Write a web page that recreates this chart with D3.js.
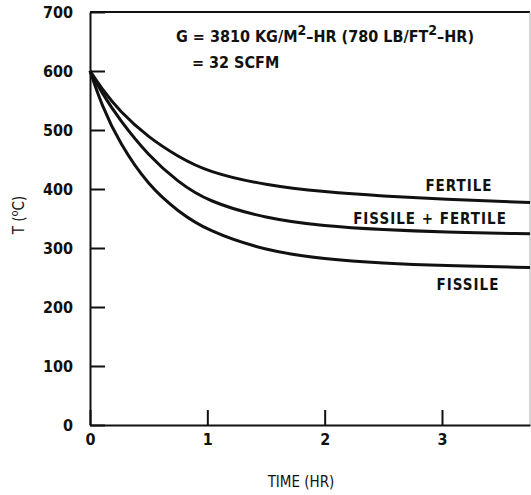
<!DOCTYPE html>
<html>

<head>
    <title>Temperature vs time</title>
    <style>
        body { margin: 0; background: #fff; }
        text { font-family: "DejaVu Sans Condensed", "Liberation Sans Narrow", sans-serif; fill: #111; }
    </style>
    <script src="https://d3js.org/d3.v7.min.js"></script>
</head>

<body>
    <svg width="531" height="495"></svg>

    <script>
        // values: time (hr) and T (deg C)
        var times = [0, 0.1, 0.25, 0.5, 0.75, 1.0, 1.5, 2.0, 2.5, 3.0, 3.75];
        var fertile = [600, 570, 532, 487, 455, 429, 406, 395, 388, 383, 377];
        var fissileFertile = [600, 563, 518, 456, 412, 379, 350, 337, 331, 327, 324];
        var fissile = [600, 542, 478, 405, 362, 329, 295, 281, 274, 270, 267];

        var xTicks = [0, 1, 2, 3];
        var yTicks = [0, 100, 200, 300, 400, 500, 600, 700];

        var series = [
            { name: "FERTILE", values: fertile },
            { name: "FISSILE + FERTILE", values: fissileFertile },
            { name: "FISSILE", values: fissile }
        ];

        var svg = d3.select("svg");

        var x = d3.scaleLinear().domain([0, 3.75]).range([90, 530]);
        var y = d3.scaleLinear().domain([0, 700]).range([425, 12]);

        // frame top and right
        svg.append("line")
            .attr("x1", x(0)).attr("x2", x(3.75))
            .attr("y1", y(700)).attr("y2", y(700))
            .attr("stroke", "#111").attr("stroke-width", 2);
        svg.append("line")
            .attr("x1", x(3.75)).attr("x2", x(3.75))
            .attr("y1", y(700)).attr("y2", y(0))
            .attr("stroke", "#aaa").attr("stroke-width", 1);

        svg.append("g")
            .attr("transform", "translate(" + x(0) + ",0)")
            .call(d3.axisLeft(y).tickValues(yTicks).tickSizeInner(-15).tickSizeOuter(0).tickPadding(17));

        svg.append("g")
            .attr("transform", "translate(0," + y(0) + ")")
            .call(d3.axisBottom(x).tickValues(xTicks).tickFormat(d3.format("d"))
                .tickSizeInner(-15).tickSizeOuter(0).tickPadding(9));

        svg.selectAll(".domain").attr("stroke", "#111").attr("stroke-width", 2);
        svg.selectAll(".tick line").attr("stroke", "#111").attr("stroke-width", 2);
        svg.selectAll(".tick text")
            .attr("fill", "#111")
            .style("font-size", "16px")
            .style("font-weight", "bold");

        // curves
        var line = d3.line()
            .x(function (d, i) { return x(times[i]); })
            .y(function (d) { return y(d); })
            .curve(d3.curveBasis);

        svg.selectAll(".curve")
            .data(series)
            .enter().append("path")
            .attr("class", "curve")
            .attr("fill", "none")
            .attr("stroke", "#111")
            .attr("stroke-width", 3)
            .attr("d", function (d) { return line(d.values); });

        // curve labels
        var labelStyle = function (sel) {
            sel.style("font-size", "15px").style("font-weight", "bold").style("letter-spacing", "1px");
        };
        svg.append("text").attr("x", 459).attr("y", 191).attr("text-anchor", "middle")
            .text("FERTILE").call(labelStyle);
        svg.append("text").attr("x", 430).attr("y", 224).attr("text-anchor", "middle")
            .text("FISSILE + FERTILE").call(labelStyle);
        svg.append("text").attr("x", 468).attr("y", 290).attr("text-anchor", "middle")
            .text("FISSILE").call(labelStyle);

        // annotation
        var note = svg.append("text").attr("x", 176).attr("y", 42)
            .style("font-size", "16px").style("font-weight", "bold");
        note.append("tspan").text("G  =  3810 KG/M");
        note.append("tspan").attr("dy", -7).style("font-size", "14px").text("2");
        note.append("tspan").attr("dy", 7).text("\u2013HR (780 LB/FT");
        note.append("tspan").attr("dy", -7).style("font-size", "14px").text("2");
        note.append("tspan").attr("dy", 7).text("\u2013HR)");

        svg.append("text").attr("x", 192).attr("y", 68)
            .style("font-size", "16px").style("font-weight", "bold")
            .text("=  32 SCFM");

        // axis titles
        svg.append("text").attr("x", 301).attr("y", 487).attr("text-anchor", "middle")
            .style("font-size", "15px")
            .text("TIME (HR)");

        var yTitle = svg.append("text")
            .attr("transform", "translate(24,215) rotate(-90)")
            .attr("text-anchor", "middle")
            .style("font-size", "15px");
        yTitle.append("tspan").text("T (");
        yTitle.append("tspan").attr("dy", -6).style("font-size", "11px").text("o");
        yTitle.append("tspan").attr("dy", 6).text("C)");
    </script>
</body>

</html>
